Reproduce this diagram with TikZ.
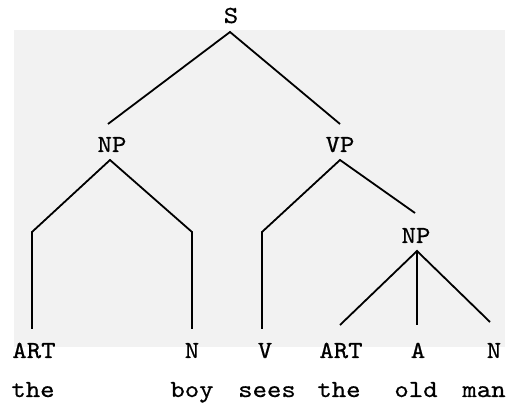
\documentclass[tikz,border=0pt]{standalone}
\usepackage{fontspec}
\newfontfamily\tyfont{lmmono10-regular.otf}[FakeBold=0.6,FakeStretch=1.12]
\begin{document}
\begin{tikzpicture}[x=1pt,y=-1pt,
  lab/.style={font=\tyfont\fontsize{24.5}{25}\selectfont, anchor=base, inner sep=0pt},
  word/.style={font=\tyfont\fontsize{24.5}{25}\selectfont, anchor=base, inner sep=0pt},
  br/.style={line width=1.8pt, line join=miter}]
\useasboundingbox (0,0) rectangle (520,403);
\fill[black!5] (14,30) rectangle (505,347);
% category labels
\node[lab] (S) at (231,23) {S};
\node[lab] (NP) at (112,152) {NP};
\node[lab] (VP) at (340,152) {VP};
\node[lab] (NP2) at (416,243) {NP};
\node[lab] (ART) at (34,358) {ART};
\node[lab] (N) at (192,358) {N};
\node[lab] (V) at (265,358) {V};
\node[lab] (ART2) at (341,358) {ART};
\node[lab] (A) at (418,358) {A};
\node[lab] (N2) at (494,358) {N};
% words
\node[word] (w1) at (33,397) {the};
\node[word] (w2) at (192,397) {boy};
\node[word] (w3) at (267,397) {sees};
\node[word] (w4) at (339,397) {the};
\node[word] (w5) at (416,397) {old};
\node[word] (w6) at (484,397) {man};
% apex and foot points
\coordinate (Sa) at (230,32);
\coordinate (NPt) at (108,124);
\coordinate (VPt) at (340,124);
\coordinate (NPa) at (110,160);
\coordinate (VPa) at (340,160);
\coordinate (NP2t) at (415,213);
\coordinate (NP2a) at (417,251);
\coordinate (ARTt) at (32,329);
\coordinate (Nt) at (192,329);
\coordinate (Vt) at (262,329);
\coordinate (ART2t) at (340,325);
\coordinate (At) at (417,325);
\coordinate (N2t) at (490,322);
% branches
\draw[br] (NPt) -- (Sa) -- (VPt);
\draw[br] (ARTt) -- (32,232) -- (NPa) -- (192,232) -- (Nt);
\draw[br] (Vt) -- (262,232) -- (VPa) -- (NP2t);
\draw[br] (ART2t) -- (NP2a) -- (N2t);
\draw[br] (NP2a) -- (At);
\end{tikzpicture}
\end{document}
